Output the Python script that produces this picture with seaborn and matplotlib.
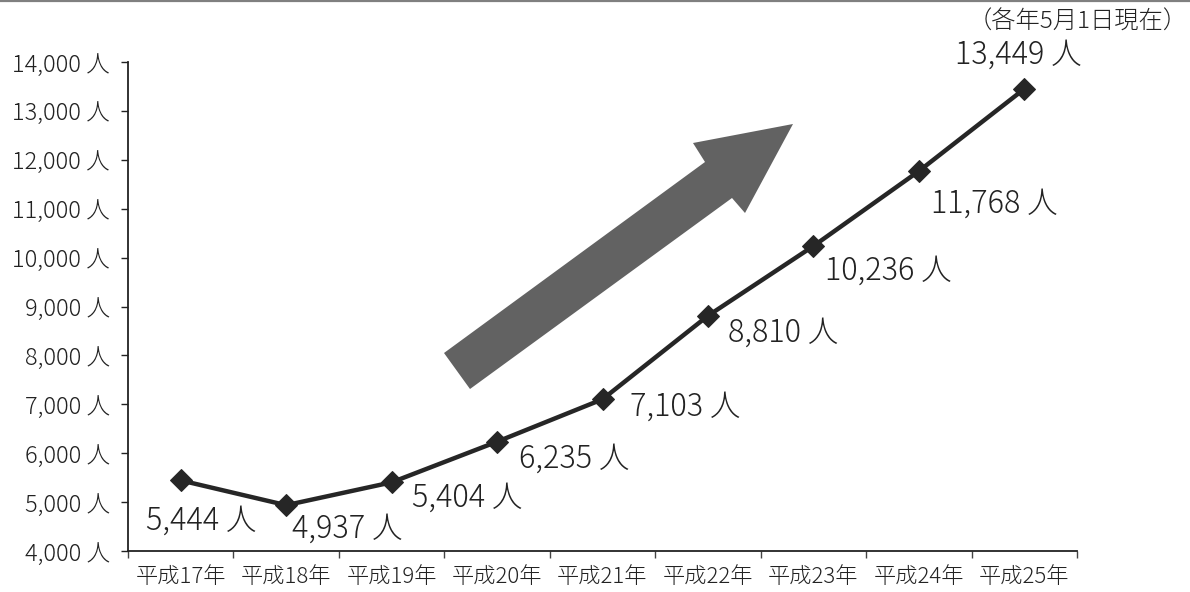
import matplotlib
matplotlib.use("Agg")
import matplotlib.pyplot as plt
from matplotlib.patches import Polygon
from matplotlib.lines import Line2D
import seaborn as sns
import pandas as pd
import numpy as np

years = ["平成17年", "平成18年", "平成19年", "平成20年", "平成21年",
         "平成22年", "平成23年", "平成24年", "平成25年"]
counts = [5444, 4937, 5404, 6235, 7103, 8810, 10236, 11768, 13449]
y_ticks = [4000, 5000, 6000, 7000, 8000, 9000, 10000, 11000, 12000, 13000, 14000]
note = "（各年5月1日現在）"
unit = "人"

# label offsets in pixels (dx to left edge, dy to centre; y up)
label_dx = [-35, 6, 20, 22, 28, 20, 12, 12, -69]
label_dy = [-40, -24, -15, -17, -7, -17, -25, -33, 34]

sns.set_theme(style="white")
plt.rcParams['font.family'] = ['Noto Sans CJK JP', 'DejaVu Sans']
plt.rcParams['font.weight'] = 'light'

fig = plt.figure(figsize=(11.9, 5.92), dpi=100)
ax = fig.add_axes([128/1190, 41/592, 949/1190, 489/592])

df = pd.DataFrame({"year": years, "count": counts})
df["pos"] = np.arange(len(years))
sns.lineplot(data=df, x="pos", y="count", ax=ax, color="#262626", linewidth=3.2,
             marker="D", markersize=11, markeredgecolor="#262626",
             markerfacecolor="#262626", sort=False)

ax.set_xlim(-0.5, len(years) - 0.5)
ax.set_ylim(4000, 14000)
ax.set_xlabel("")
ax.set_ylabel("")

ax.set_yticks(y_ticks)
ax.set_yticklabels([f"{v:,} {unit}" for v in y_ticks], fontsize=17,
                   color="#222222", fontweight="light")
ax.set_xticks(np.arange(len(years) + 1) - 0.5)
ax.set_xticklabels([])
ax.set_xticks(np.arange(len(years)), minor=True)
ax.set_xticklabels(years, minor=True, fontsize=16, color="#222222",
                   fontweight="light")
ax.tick_params(axis="y", which="major", direction="out", length=5, width=1,
               color="#222222", pad=8, left=True)
ax.tick_params(axis="x", which="major", direction="out", length=5, width=1,
               color="#444444", bottom=True)
ax.tick_params(axis="x", which="minor", length=0, pad=11)

for s in ["top", "right"]:
    ax.spines[s].set_visible(False)
for s in ["left", "bottom"]:
    ax.spines[s].set_color("#222222")
    ax.spines[s].set_linewidth(1.3)

px2pt = 72 / 100
for i, (c, dx, dy) in enumerate(zip(counts, label_dx, label_dy)):
    ax.annotate(f"{c:,} {unit}", xy=(i, c), xytext=(dx * px2pt, dy * px2pt),
                textcoords="offset points", ha="left", va="center",
                fontsize=22, color="#222222", fontweight="light")

# decorative arrow (axes-fraction coordinates from pixel positions)
arrow_px = [(444, 353), (705, 162), (693, 143), (793, 124), (745, 213),
            (732, 198), (470, 389)]
pts = [((x - 128) / 949, (551 - y) / 489) for x, y in arrow_px]
ax.add_patch(Polygon(pts, closed=True, transform=ax.transAxes,
                     facecolor="#626262", edgecolor="none", zorder=1))

fig.text(1188/1190, 1 - 22/592, note, ha="right", va="center", fontsize=17.5,
         color="#222222", fontweight="light")
fig.add_artist(Line2D([0, 1], [1 - 1/592, 1 - 1/592], transform=fig.transFigure,
                      color="#808080", linewidth=1.6))

fig.savefig("out.png", dpi=100)
